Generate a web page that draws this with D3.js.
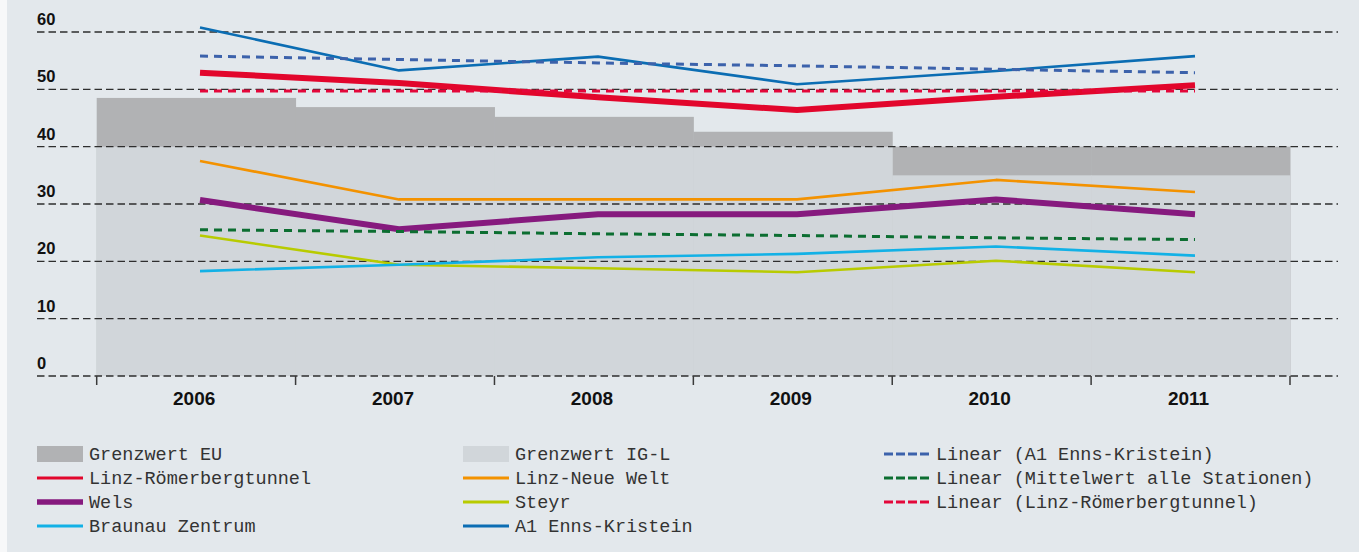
<!DOCTYPE html>
<html>
<head>
<meta charset="utf-8">
<script src="https://cdn.jsdelivr.net/npm/d3@7"></script>
<style>
  html, body { margin: 0; padding: 0; background: #f7f8f9; }
  svg { display: block; }
</style>
</head>
<body>
<svg id="chart" width="1359" height="552"></svg>
<script>
// NO2 annual means (µg/m³) per station, 2006–2011
const years = [2006, 2007, 2008, 2009, 2010, 2011];
const yTicks = [0, 10, 20, 30, 40, 50, 60];

const grenzwertEU   = [48.5, 46.9, 45.2, 42.6, 40, 40];
const grenzwertIGL  = [40, 40, 40, 40, 35, 35];

const linzRoemerberg = [52.9, 51.1, 48.6, 46.4, 48.7, 50.7];
const linzNeueWelt   = [37.5, 30.8, 30.8, 30.8, 34.2, 32.1];
const wels           = [30.7, 25.6, 28.2, 28.2, 30.8, 28.2];
const steyr          = [24.5, 19.4, 18.8, 18.1, 20.1, 18.1];
const braunau        = [18.3, 19.4, 20.7, 21.3, 22.6, 21.0];
const a1Enns         = [60.8, 53.3, 55.7, 50.9, 53.2, 55.8];

const trendA1      = [55.8, 55.2, 54.6, 54.1, 53.5, 52.9];
const trendMittel  = [25.5, 25.2, 24.8, 24.5, 24.1, 23.8];
const trendLinz    = [49.7, 49.7, 49.7, 49.7, 49.7, 49.7];

const C = {
  panel: "#e3e8ec",
  eu: "#b1b2b4",
  igl: "#d1d6da",
  grid: "#2e2e2e",
  red: "#e2062c",
  orange: "#f39200",
  purple: "#861a7e",
  yellow: "#b8cb00",
  lightblue: "#12b1e6",
  blue: "#0b6db3",
  blueDash: "#3c62ab",
  greenDash: "#0c6e31",
  redDash: "#e3073a",
  text: "#111",
  legendText: "#333"
};

const lineSeries = [
  { name: "Linz-Neue Welt", values: linzNeueWelt, color: C.orange, width: 2.6 },
  { name: "Steyr", values: steyr, color: C.yellow, width: 2.6 },
  { name: "Braunau Zentrum", values: braunau, color: C.lightblue, width: 2.6 },
  { name: "A1 Enns-Kristein", values: a1Enns, color: C.blue, width: 2.6 },
  { name: "Wels", values: wels, color: C.purple, width: 6 },
  { name: "Linz-Römerbergtunnel", values: linzRoemerberg, color: C.red, width: 6 }
];
const trendSeries = [
  { name: "Linear (A1 Enns-Kristein)", values: trendA1, color: C.blueDash },
  { name: "Linear (Mittelwert alle Stationen)", values: trendMittel, color: C.greenDash },
  { name: "Linear (Linz-Römerbergtunnel)", values: trendLinz, color: C.redDash }
];

const svg = d3.select("#chart");

// panel background
svg.append("rect").attr("x", 7).attr("y", 0).attr("width", 1352).attr("height", 552).attr("fill", C.panel);

const x = d3.scaleBand().domain(years).range([96.7, 1290]).paddingInner(0).paddingOuter(0);
const xp = d3.scalePoint().domain(years).range([200, 1195]);
const y = d3.scaleLinear().domain([0, 60]).range([376, 32]);

// limit value bars (EU behind, IG-L in front)
svg.append("g").selectAll("rect").data(years).join("rect")
  .attr("x", d => x(d)).attr("width", x.bandwidth() + 0.5)
  .attr("y", (d, i) => y(grenzwertEU[i]))
  .attr("height", (d, i) => y(0) - y(grenzwertEU[i]))
  .attr("fill", C.eu);
svg.append("g").selectAll("rect").data(years).join("rect")
  .attr("x", d => x(d)).attr("width", x.bandwidth() + 0.5)
  .attr("y", (d, i) => y(grenzwertIGL[i]))
  .attr("height", (d, i) => y(0) - y(grenzwertIGL[i]))
  .attr("fill", C.igl);

// dashed gridlines
svg.append("g").selectAll("line").data(yTicks).join("line")
  .attr("x1", 37).attr("x2", 1338)
  .attr("y1", d => y(d)).attr("y2", d => y(d))
  .attr("stroke", C.grid).attr("stroke-width", 1.4)
  .attr("stroke-dasharray", "7.5,4");

// y labels
svg.append("g").selectAll("text").data(yTicks).join("text")
  .attr("x", 37).attr("y", d => y(d) - 7)
  .attr("font-family", "Liberation Sans, Arial, sans-serif")
  .attr("font-weight", "bold").attr("font-size", 16.5)
  .attr("fill", C.text)
  .text(d => d);

// x category ticks at band boundaries
const boundaries = years.map(d => x(d)).concat([x(years[years.length - 1]) + x.bandwidth()]);
svg.append("g").selectAll("line").data(boundaries).join("line")
  .attr("x1", d => d).attr("x2", d => d)
  .attr("y1", y(0)).attr("y2", y(0) + 9)
  .attr("stroke", "#3a3a3a").attr("stroke-width", 1.5);

// year labels
svg.append("g").selectAll("text").data(years).join("text")
  .attr("x", d => x(d) + x.bandwidth() / 2 - 2).attr("y", 405)
  .attr("text-anchor", "middle")
  .attr("font-family", "Liberation Sans, Arial, sans-serif")
  .attr("font-weight", "bold").attr("font-size", 19)
  .attr("fill", C.text)
  .text(d => d);

const line = d3.line().x((d, i) => xp(years[i])).y(d => y(d));

svg.append("g").selectAll("path").data(lineSeries).join("path")
  .attr("d", s => line(s.values))
  .attr("fill", "none")
  .attr("stroke", s => s.color).attr("stroke-width", s => s.width)
  .attr("stroke-linejoin", "round");

svg.append("g").selectAll("path").data(trendSeries).join("path")
  .attr("d", s => line(s.values))
  .attr("fill", "none")
  .attr("stroke", s => s.color).attr("stroke-width", 3)
  .attr("stroke-dasharray", "8,6");

// legend
const legendCols = [
  [
    { type: "rect", color: C.eu, label: "Grenzwert EU" },
    { type: "line", color: C.red, width: 3, label: "Linz-Römerbergtunnel" },
    { type: "line", color: C.purple, width: 5.5, label: "Wels" },
    { type: "line", color: C.lightblue, width: 3, label: "Braunau Zentrum" }
  ],
  [
    { type: "rect", color: C.igl, label: "Grenzwert IG-L" },
    { type: "line", color: C.orange, width: 3, label: "Linz-Neue Welt" },
    { type: "line", color: C.yellow, width: 3, label: "Steyr" },
    { type: "line", color: C.blue, width: 3, label: "A1 Enns-Kristein" }
  ],
  [
    { type: "dash", color: C.blueDash, label: "Linear (A1 Enns-Kristein)" },
    { type: "dash", color: C.greenDash, label: "Linear (Mittelwert alle Stationen)" },
    { type: "dash", color: C.redDash, label: "Linear (Linz-Römerbergtunnel)" }
  ]
];
const colX = [37, 463, 884];
const rowY = [454, 478, 502, 526];

legendCols.forEach((col, ci) => {
  const g = svg.append("g").attr("transform", `translate(${colX[ci]},0)`);
  col.forEach((item, ri) => {
    const cy = rowY[ri];
    if (item.type === "rect") {
      g.append("rect").attr("x", 0).attr("y", cy - 8).attr("width", 46).attr("height", 16).attr("fill", item.color);
    } else if (item.type === "line") {
      g.append("line").attr("x1", 0).attr("x2", 46).attr("y1", cy).attr("y2", cy)
        .attr("stroke", item.color).attr("stroke-width", item.width);
    } else {
      g.append("line").attr("x1", 0).attr("x2", 46).attr("y1", cy).attr("y2", cy)
        .attr("stroke", item.color).attr("stroke-width", 3).attr("stroke-dasharray", "9,3");
    }
    g.append("text").attr("x", 52).attr("y", cy + 5.5)
      .attr("font-family", "Liberation Mono, Courier New, monospace")
      .attr("font-size", 18.5).attr("fill", C.legendText)
      .text(item.label);
  });
});
</script>
</body>
</html>
